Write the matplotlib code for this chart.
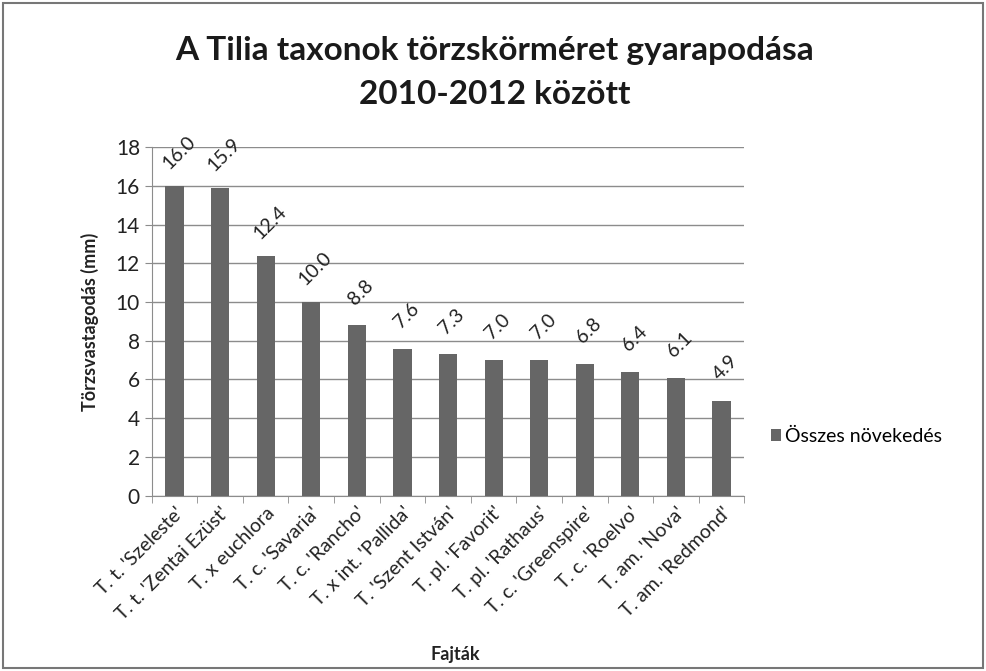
import matplotlib.pyplot as plt
from matplotlib.patches import Rectangle

plt.rcParams['font.family'] = ['Lato', 'DejaVu Sans']

# fajták és összes növekedés (mm)
fajtak = ["T. t. 'Szeleste'", "T. t. 'Zentai Ezüst'", "T. x euchlora", "T. c. 'Savaria'",
          "T. c. 'Rancho'", "T. x int. 'Pallida'", "T. 'Szent István'", "T. pl. 'Favorit'",
          "T. pl. 'Rathaus'", "T. c. 'Greenspire'", "T. c. 'Roelvo'", "T. am. 'Nova'",
          "T. am. 'Redmond'"]
novekedes = [16.0, 15.9, 12.4, 10.0, 8.8, 7.6, 7.3, 7.0, 7.0, 6.8, 6.4, 6.1, 4.9]
y_ticks = list(range(0, 19, 2))

fig = plt.figure(figsize=(9.86, 6.71), dpi=100)
ax = fig.add_axes([0.1539, 0.2614, 0.601, 0.5191])

x = list(range(len(fajtak)))
bars = ax.bar(x, novekedes, width=0.4, color='#666666', label='Összes növekedés', zorder=3)

for xi, v in zip(x, novekedes):
    ax.annotate(f'{v:.1f}', (xi, v), xytext=(3, 24), textcoords='offset points',
                rotation=45, ha='center', va='center', fontsize=14, color='#222222')

ax.set_xlim(-0.5, len(fajtak) - 0.5)
ax.set_ylim(0, 18)
ax.set_yticks(y_ticks)
ax.yaxis.grid(True, color='#8c8c8c', linewidth=1.0, zorder=0)
ax.tick_params(axis='y', labelsize=15, colors='#8c8c8c', labelcolor='#222222', length=5)

ax.set_xticks(x)
ax.set_xticklabels(fajtak, rotation=45, ha='right', rotation_mode='anchor', fontsize=14,
                   color='#222222')
ax.tick_params(axis='x', which='major', length=0, pad=6)
ax.set_xticks([i - 0.5 for i in range(len(fajtak) + 1)], minor=True)
ax.tick_params(axis='x', which='minor', length=5, color='#8c8c8c')

for side in ['top', 'right']:
    ax.spines[side].set_visible(False)
for side in ['left', 'bottom']:
    ax.spines[side].set_color('#8c8c8c')

ax.set_ylabel('Törzsvastagodás (mm)', fontsize=13, fontweight='bold', color='#222222', labelpad=12)
fig.text(0.462, 0.024, 'Fajták', ha='center', va='center', fontsize=13, fontweight='bold',
         color='#222222')

fig.text(0.502, 0.892, 'A Tilia taxonok törzskörméret gyarapodása\n2010-2012 között',
         ha='center', va='center', fontsize=24, fontweight='bold', color='#1a1a1a',
         linespacing=1.65)

ax.legend(loc='center left', bbox_to_anchor=(1.015, 0.17), frameon=False, fontsize=14,
          handlelength=0.55, handleheight=0.55, handletextpad=0.2)

fig.patches.append(Rectangle((0.003, 0.004), 0.994, 0.992, transform=fig.transFigure,
                             fill=False, edgecolor='#777777', linewidth=1.5))

fig.savefig('out.png', dpi=100)
